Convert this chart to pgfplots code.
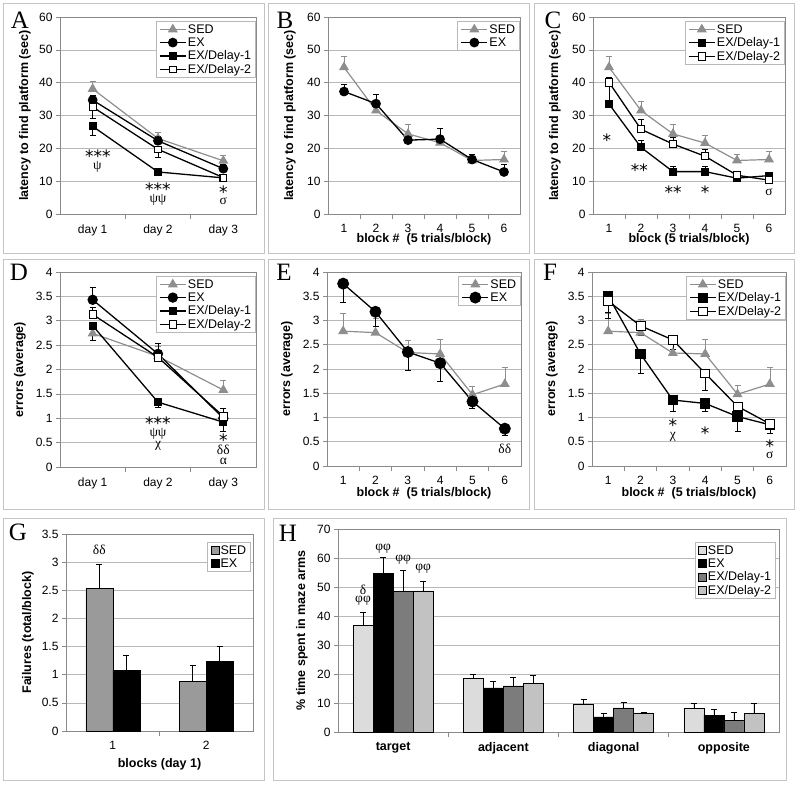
\documentclass[border=0pt]{standalone}
\usepackage{fontspec}
\setmainfont{Liberation Sans}
\newfontfamily\tnr{Liberation Serif}
\newfontfamily\djv{DejaVu Sans}
\usepackage{pgfplots}
\pgfplotsset{compat=1.18}

\definecolor{sedgray}{HTML}{8E8E8E}
\definecolor{gridgray}{HTML}{B8B8B8}
\definecolor{axgray}{HTML}{8A8A8A}
\definecolor{framegray}{HTML}{C4C4C4}
\definecolor{gsed}{HTML}{9A9A9A}
\definecolor{hsed}{HTML}{DCDCDC}
\definecolor{hdone}{HTML}{7C7C7C}
\definecolor{hdtwo}{HTML}{C2C2C2}

\newcommand\letter[1]{{\tnr\fontsize{25}{25}\selectfont #1}}
\tikzset{
  st/.style={font=\djv\fontsize{17}{17}\selectfont, yshift=-3pt, inner sep=0pt},
  gr/.style={font=\tnr\fontsize{13.5}{13.5}\selectfont, inner sep=0pt},
}

\pgfplotsset{
  base/.style={
    scale only axis, anchor=south west, clip=false,
    axis line style={draw=axgray, line width=0.6pt},
    tick style={draw=axgray, line width=0.6pt},
    tick align=outside, tick pos=left,
    major tick length=4pt, minor tick length=5pt,
    major x tick style={draw=none},
    ymajorgrids, grid style={draw=gridgray, line width=0.6pt},
    ticklabel style={font=\fontsize{12}{14}\selectfont},
    xticklabel style={yshift=-3pt},
    /pgf/number format/assume math mode=true,
    legend cell align=left,
    legend style={at={(1,1)}, anchor=north east, yshift=-4pt,
      draw=gridgray, line width=0.6pt, font=\fontsize{12.5}{14}\selectfont,
      inner xsep=3pt, inner ysep=1.5pt, row sep=0pt, nodes={inner sep=1.5pt}},
  },
  lines/.style={
    legend image code/.code={\draw[mark repeat=2,mark phase=2,##1]
      plot coordinates {(0pt,0pt) (13pt,0pt) (26pt,0pt)};},
  },
  bars/.style={every axis plot/.append style={
    legend image code/.code={\draw[##1, line width=0.5pt] (0pt,-4pt) rectangle (8pt,4pt);}}},
  ylab/.style={every axis y label/.style={at={(axis description cs:0,0.5)},
      xshift=-#1, rotate=90, anchor=center,
      font=\bfseries\fontsize{12.5}{14}\selectfont}},
  xlab/.style={every axis x label/.style={at={(axis description cs:0.5,0)},
      yshift=-#1, anchor=center,
      font=\bfseries\fontsize{12.5}{14}\selectfont}},
  sed/.style={sedgray, line width=1.2pt, mark=triangle*, mark size=4.6pt,
    mark options={fill=sedgray, draw=sedgray}},
  ex/.style={black, line width=1.3pt, mark=*, mark size=#1,
    mark options={fill=black}},
  done/.style={black, line width=1.3pt, mark=square*, mark size=#1,
    mark options={fill=black}},
  dtwo/.style={black, line width=1.3pt, mark=square*, mark size=#1,
    mark options={fill=white, draw=black, line width=0.8pt}},
  err/.style={error bars/.cd, y dir=#1, y explicit,
    error bar style={line width=0.6pt, black},
    error mark options={rotate=90, mark size=3pt, line width=0.6pt, black}},
  gerr/.style={error bars/.cd, y dir=#1, y explicit,
    error bar style={line width=0.6pt, sedgray},
    error mark options={rotate=90, mark size=3pt, line width=0.6pt, sedgray}},
}

\begin{document}
\begin{tikzpicture}
\useasboundingbox (0pt,0pt) rectangle (800pt,785pt);

% panel frames
\begin{scope}[draw=framegray, line width=0.8pt, x=1pt, y=1pt]
\draw (3,532) rectangle (264,782);
\draw (268,532) rectangle (529,782);
\draw (534,532) rectangle (794,782);
\draw (3,276) rectangle (264,526);
\draw (268,276) rectangle (529,526);
\draw (534,276) rectangle (794,526);
\draw (3,5) rectangle (264,267);
\draw (273,5) rectangle (786,267);
\end{scope}

% ---------- A ----------
\begin{axis}[base, lines, at={(60pt,571pt)}, width=196pt, height=197pt,
  xmin=0.5, xmax=3.5, ymin=0, ymax=60,
  xtick={1,2,3}, xticklabels={day 1,day 2,day 3}, minor xtick={1.5,2.5},
  ytick={0,10,...,60}, ylabel={latency to find platform (sec)}, ylab=35pt]
\addplot[sed, gerr=plus] coordinates {(1,38.1) +- (0,2.4) (2,23.0) +- (0,1.8) (3,16.2) +- (0,1.8)};
\addplot[ex=4.2pt, err=plus] coordinates {(1,34.7) +- (0,1.5) (2,22.3) +- (0,1.5) (3,13.8) +- (0,1.2)};
\addplot[done=3.2pt, err=minus] coordinates {(1,26.7) +- (0,2.8) (2,12.8) +- (0,0.8) (3,11.0) +- (0,0.5)};
\addplot[dtwo=3.4pt, err=minus] coordinates {(1,32.6) +- (0,3.4) (2,19.7) +- (0,2.4) (3,11.1) +- (0,0.6)};
\legend{SED,EX,EX/Delay-1,EX/Delay-2}
\node[st] at (axis cs:1.08,18.6) {***};
\node[gr] at (axis cs:1.07,14.4) {ψ};
\node[st] at (axis cs:2,8.4) {***};
\node[gr] at (axis cs:2,4.2) {ψψ};
\node[st] at (axis cs:3,7.6) {*};
\node[gr] at (axis cs:3,3.9) {σ};
\end{axis}

% ---------- B ----------
\begin{axis}[base, lines, at={(328pt,571pt)}, width=192pt, height=197pt,
  xmin=0.5, xmax=6.5, ymin=0, ymax=60,
  xtick={1,...,6}, minor xtick={1.5,2.5,3.5,4.5,5.5},
  ytick={0,10,...,60}, ylabel={latency to find platform (sec)}, ylab=38pt,
  xlabel={block \#\ \ (5 trials/block)}, xlab=25pt]
\addplot[sed, gerr=plus] coordinates {(1,44.7) +- (0,3.3) (2,31.5) +- (0,2.5) (3,24.4) +- (0,2.8) (4,21.7) +- (0,2.3) (5,16.3) +- (0,2.0) (6,16.6) +- (0,2.4)};
\addplot[ex=4.2pt, err=plus] coordinates {(1,37.3) +- (0,2.3) (2,33.6) +- (0,2.9) (3,22.5) +- (0,1.5) (4,22.8) +- (0,3.3) (5,16.6) +- (0,1.5) (6,12.8) +- (0,2.2)};
\legend{SED,EX}
\end{axis}

% ---------- C ----------
\begin{axis}[base, lines, at={(593pt,571pt)}, width=192pt, height=197pt,
  xmin=0.5, xmax=6.5, ymin=0, ymax=60,
  xtick={1,...,6}, minor xtick={1.5,2.5,3.5,4.5,5.5},
  ytick={0,10,...,60}, ylabel={latency to find platform (sec)}, ylab=38pt,
  xlabel={block (5 trials/block)}, xlab=25pt]
\addplot[sed, gerr=plus] coordinates {(1,44.7) +- (0,3.3) (2,31.5) +- (0,2.8) (3,24.4) +- (0,2.8) (4,21.6) +- (0,2.4) (5,16.3) +- (0,1.8) (6,16.6) +- (0,2.6)};
\addplot[done=3.4pt, err=plus] coordinates {(1,33.5) +- (0,6.0) (2,20.3) +- (0,2.2) (3,12.9) +- (0,1.5) (4,12.9) +- (0,1.5) (5,10.9) +- (0,0.8) (6,11.7) +- (0,1.0)};
\addplot[dtwo=3.6pt, err=plus] coordinates {(1,40.1) +- (0,1.5) (2,25.8) +- (0,3.0) (3,21.3) +- (0,2.0) (4,17.6) +- (0,2.0) (5,11.8) +- (0,1.2) (6,10.3) +- (0,1.0)};
\legend{SED,EX/Delay-1,EX/Delay-2}
\node[st] at (axis cs:0.93,23.5) {*};
\node[st] at (axis cs:1.95,14.2) {**};
\node[st] at (axis cs:3,7.6) {**};
\node[st] at (axis cs:4,7.6) {*};
\node[gr] at (axis cs:6,6.6) {σ};
\end{axis}

% ---------- D ----------
\begin{axis}[base, lines, at={(60pt,318pt)}, width=196pt, height=195pt,
  xmin=0.5, xmax=3.5, ymin=0, ymax=4,
  xtick={1,2,3}, xticklabels={day 1,day 2,day 3}, minor xtick={1.5,2.5},
  ytick={0,0.5,...,4}, ylabel={errors (average)}, ylab=40pt]
\addplot[sed, gerr=plus] coordinates {(1,2.74) +- (0,0.2) (2,2.27) +- (0,0.2) (3,1.58) +- (0,0.2)};
\addplot[ex=4.5pt, err=plus] coordinates {(1,3.43) +- (0,0.25) (2,2.32) +- (0,0.22) (3,1.0) +- (0,0.1)};
\addplot[done=3.4pt, err=minus] coordinates {(1,2.90) +- (0,0.31) (2,1.33) +- (0,0.1) (3,0.92) +- (0,0.18)};
\addplot[dtwo=3.6pt, err=plus] coordinates {(1,3.13) +- (0,0.15) (2,2.25) +- (0,0.15) (3,1.04) +- (0,0.17)};
\legend{SED,EX,EX/Delay-1,EX/Delay-2}
\node[st] at (axis cs:2,0.96) {***};
\node[gr] at (axis cs:2,0.68) {ψψ};
\node[gr] at (axis cs:2,0.44) {χ};
\node[st] at (axis cs:3,0.62) {*};
\node[gr] at (axis cs:3,0.35) {δδ};
\node[gr] at (axis cs:3,0.12) {α};
\end{axis}

% ---------- E ----------
\begin{axis}[base, lines, at={(327pt,319pt)}, width=194pt, height=194pt,
  xmin=0.5, xmax=6.5, ymin=0, ymax=4,
  xtick={1,...,6}, minor xtick={1.5,2.5,3.5,4.5,5.5},
  ytick={0,0.5,...,4}, ylabel={errors (average)}, ylab=40pt,
  xlabel={block \#\ \ (5 trials/block)}, xlab=27pt]
\addplot[sed, gerr=plus] coordinates {(1,2.78) +- (0,0.37) (2,2.75) +- (0,0.3) (3,2.34) +- (0,0.25) (4,2.31) +- (0,0.3) (5,1.47) +- (0,0.18) (6,1.69) +- (0,0.35)};
\addplot[ex=5.3pt, err=minus] coordinates {(1,3.76) +- (0,0.38) (2,3.18) +- (0,0.3) (3,2.35) +- (0,0.38) (4,2.12) +- (0,0.37) (5,1.33) +- (0,0.13) (6,0.77) +- (0,0.14)};
\legend{SED,EX}
\node[gr] at (axis cs:6,0.36) {δδ};
\end{axis}

% ---------- F ----------
\begin{axis}[base, lines, at={(592pt,319pt)}, width=194pt, height=194pt,
  xmin=0.5, xmax=6.5, ymin=0, ymax=4,
  xtick={1,...,6}, minor xtick={1.5,2.5,3.5,4.5,5.5},
  ytick={0,0.5,...,4}, ylabel={errors (average)}, ylab=40pt,
  xlabel={block \#\ \ (5 trials/block)}, xlab=27pt]
\addplot[sed, gerr=plus] coordinates {(1,2.78) +- (0,0.37) (2,2.75) +- (0,0.28) (3,2.33) +- (0,0.25) (4,2.31) +- (0,0.3) (5,1.48) +- (0,0.18) (6,1.69) +- (0,0.35)};
\addplot[done=4.6pt, err=minus] coordinates {(1,3.51) +- (0,0.35) (2,2.31) +- (0,0.4) (3,1.36) +- (0,0.24) (4,1.29) +- (0,0.17) (5,1.02) +- (0,0.31) (6,0.85) +- (0,0.18)};
\addplot[dtwo=4.4pt, err=minus] coordinates {(1,3.40) +- (0,0.35) (2,2.89) +- (0,0.2) (3,2.6) +- (0,0.2) (4,1.91) +- (0,0.35) (5,1.23) +- (0,0.2) (6,0.87) +- (0,0.1)};
\legend{SED,EX/Delay-1,EX/Delay-2}
\node[st] at (axis cs:3,0.90) {*};
\node[gr] at (axis cs:3,0.61) {χ};
\node[st] at (axis cs:4,0.73) {*};
\node[st] at (axis cs:6,0.48) {*};
\node[gr] at (axis cs:6,0.23) {σ};
\end{axis}

% ---------- G ----------
\begin{axis}[base, at={(66pt,54pt)}, width=187pt, height=197pt,
  ybar=0pt, bar width=27pt, bars,
  xmin=0.5, xmax=2.5, ymin=0, ymax=3.5,
  xtick={1,2}, minor xtick={1.5},
  ytick={0,0.5,...,3.5}, ylabel={Failures (total/block)}, ylab=38pt,
  xlabel={blocks (day 1)}, xlab=33pt,
  legend style={yshift=-4pt, xshift=-2pt}]
\addplot[fill=gsed, draw=black, line width=0.5pt, err=plus] coordinates {(1,2.53) +- (0,0.43) (2,0.88) +- (0,0.28)};
\addplot[fill=black, draw=black, line width=0.5pt, err=plus] coordinates {(1,1.08) +- (0,0.26) (2,1.24) +- (0,0.26)};
\legend{SED,EX}
\node[gr] at (axis cs:0.856,3.22) {δδ};
\end{axis}

% ---------- H ----------
\begin{axis}[base, at={(338pt,53pt)}, width=441pt, height=203pt,
  ybar=0pt, bar width=20pt, bars,
  xmin=-0.5, xmax=3.5, ymin=0, ymax=70,
  xtick={0,1,2,3}, xticklabels={target,adjacent,diagonal,opposite},
  minor xtick={0.5,1.5,2.5},
  xticklabel style={font=\bfseries\fontsize{12.5}{14}\selectfont},
  ytick={0,10,...,70}, ylabel={\% time spent in maze arms}, ylab=36pt,
  legend style={yshift=-9pt, xshift=-3pt}]
\addplot[fill=hsed, draw=black, line width=0.5pt, err=plus] coordinates {(0,36.8) +- (0,4.6) (1,18.4) +- (0,1.4) (2,9.6) +- (0,1.6) (3,8.1) +- (0,1.7)};
\addplot[fill=black, draw=black, line width=0.5pt, err=plus] coordinates {(0,54.7) +- (0,5.4) (1,15.2) +- (0,2.3) (2,5.2) +- (0,1.1) (3,5.8) +- (0,1.9)};
\addplot[fill=hdone, draw=black, line width=0.5pt, err=plus] coordinates {(0,48.4) +- (0,7.2) (1,15.9) +- (0,2.8) (2,8.3) +- (0,1.8) (3,4.0) +- (0,2.7)};
\addplot[fill=hdtwo, draw=black, line width=0.5pt, err=plus] coordinates {(0,48.7) +- (0,3.1) (1,16.7) +- (0,2.9) (2,6.6) +- (0,0.3) (3,6.3) +- (0,3.5)};
\legend{SED,EX,EX/Delay-1,EX/Delay-2}
\node[gr] at (axis cs:-0.273,49.0) {δ};
\node[gr] at (axis cs:-0.273,45.2) {φφ};
\node[gr] at (axis cs:-0.091,63.1) {φφ};
\node[gr] at (axis cs:0.091,59.3) {φφ};
\node[gr] at (axis cs:0.273,56.4) {φφ};
\end{axis}

% panel letters
\begin{scope}[x=1pt, y=1pt]
\node at (20,765) {\letter{A}};
\node at (285,765) {\letter{B}};
\node at (553,765) {\letter{C}};
\node at (19,513) {\letter{D}};
\node at (284,513) {\letter{E}};
\node at (550,513) {\letter{F}};
\node at (18,253) {\letter{G}};
\node at (288,252) {\letter{H}};
\end{scope}
\end{tikzpicture}
\end{document}
